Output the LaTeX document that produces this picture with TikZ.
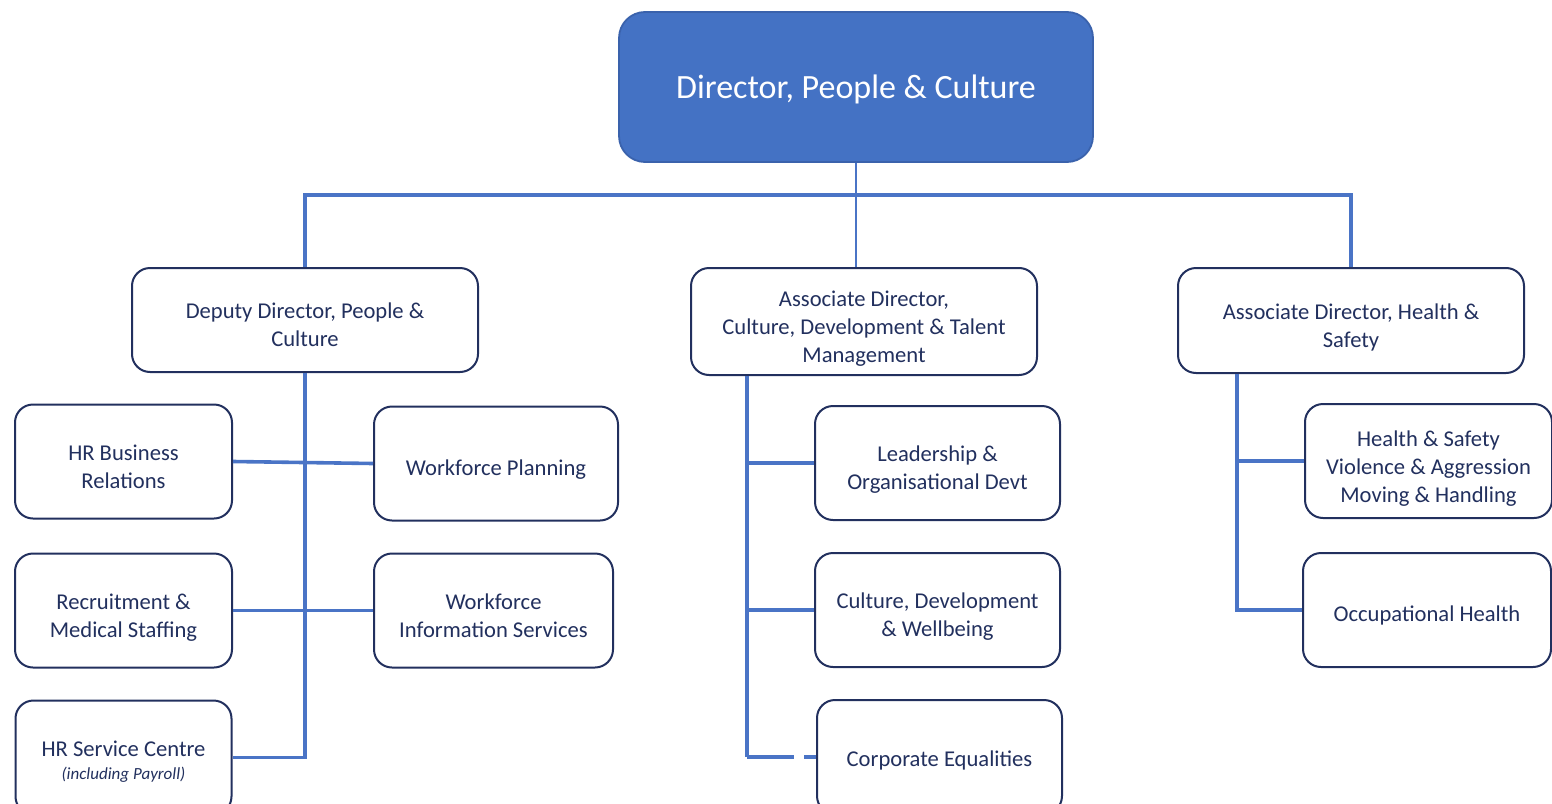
\documentclass[tikz,border=0pt]{standalone}
\usepackage{fontspec}
\setmainfont{Carlito}
\usetikzlibrary{positioning}
\definecolor{navy}{HTML}{22305E}
\definecolor{headblue}{HTML}{4472C4}
\definecolor{headrim}{HTML}{3A62AC}
\definecolor{linkblue}{HTML}{4A74C6}

\begin{document}
\begin{tikzpicture}
[x=0.5pt, y=-0.5pt, node distance=16pt,
 unit/.style={draw=navy, line width=1pt, rounded corners=9pt, fill=white, align=center,
   text=navy, inner sep=0pt, font=\fontsize{11.3}{14}\selectfont,
   text height=14pt, text depth=2.3pt},
 two/.style={text height=29pt},
 three/.style={text height=43.5pt},
 head/.style={draw=headrim, line width=0.9pt, rounded corners=13pt, fill=headblue, text=white,
   minimum width=237pt, minimum height=75pt, font=\fontsize{17}{20}\selectfont,
   execute at begin node={\rule{0pt}{14pt}}},
 boss/.style={unit, minimum width=173pt},
 leaf/.style={unit, minimum height=57pt},
 link/.style={draw=linkblue, line width=1.8pt}]
\useasboundingbox (0,0) rectangle (1552,803);

\node[head] (dir) at (856,87) {Director, People \& Culture};

\node[boss, two, minimum height=52pt] (dep) at (305,320) {Deputy Director, People \&\\Culture};
\node[boss, three, minimum height=53.5pt] (cdt) at (864,321.5) {Associate Director,\\Culture, Development \& Talent\\Management};
\node[boss, two, minimum height=52.5pt] (hs) at (1351,320.5) {Associate Director, Health \&\\Safety};

% deputy director's teams
\node[leaf, two, minimum width=108.5pt] (hrbr) at (123.5,461.5) {HR Business\\Relations};
\node[leaf, two, minimum width=108.5pt, below=16.5pt of hrbr] (recr) {Recruitment \&\\Medical Staffing};
\node[leaf, minimum width=108pt, below=15.5pt of recr, text height=24pt] (hrsc) {HR Service Centre\\[-2.5pt]{\fontsize{8.5}{10}\selectfont\itshape (including Payroll)}};
\node[leaf, minimum width=122pt] (wp) at (496,463.5) {Workforce Planning};
\node[leaf, two, minimum width=119.5pt, below=15.5pt of wp.south west, anchor=north west] (wis) {Workforce\\Information Services};

% culture, development & talent
\node[leaf, two, minimum width=122.5pt] (lead) at (937.5,463) {Leadership \&\\Organisational Devt};
\node[leaf, two, minimum width=122.5pt, below=15.5pt of lead] (cdw) {Culture, Development\\\& Wellbeing};
\node[leaf, minimum width=122.5pt, below=15.5pt of cdw.south west, anchor=north west, xshift=1pt, text height=12pt] (ce) {Corporate Equalities};

% health & safety
\node[leaf, three, minimum width=123.5pt] (hsv) at (1428.5,461) {Health \& Safety\\Violence \& Aggression\\Moving \& Handling};
\node[leaf, minimum width=124pt, below=16.5pt of hsv.south east, anchor=north east, xshift=-0.5pt] (occ) {Occupational Health};

\coordinate (ctrunk) at ([xshift=28.5pt]cdt.south west);
\coordinate (rtrunk) at ([xshift=30pt]hs.south west);

\draw[link, line width=1.2pt] (dir.south) -- (dir.south |- cdt.north);
\draw[link] (dep.north) -- ++(0,-72) -| (hs.north);

\draw[link] (dep.south) |- (hrsc.east);
\draw[link] (hrbr.east) -- (wp.west);
\draw[link] (recr.east) -- (wis.west);

\draw[link] (ctrunk) -- (ctrunk |- ce.west);
\draw[link] (ctrunk |- lead.west) -- (lead.west);
\draw[link] (ctrunk |- cdw.west) -- (cdw.west);
\draw[link, dash pattern=on 23.5pt off 5pt on 8pt] (ctrunk |- ce.west) -- (ce.west);

\draw[link] (rtrunk) |- (occ.west);
\draw[link] (rtrunk |- hsv.west) -- (hsv.west);
\end{tikzpicture}
\end{document}
